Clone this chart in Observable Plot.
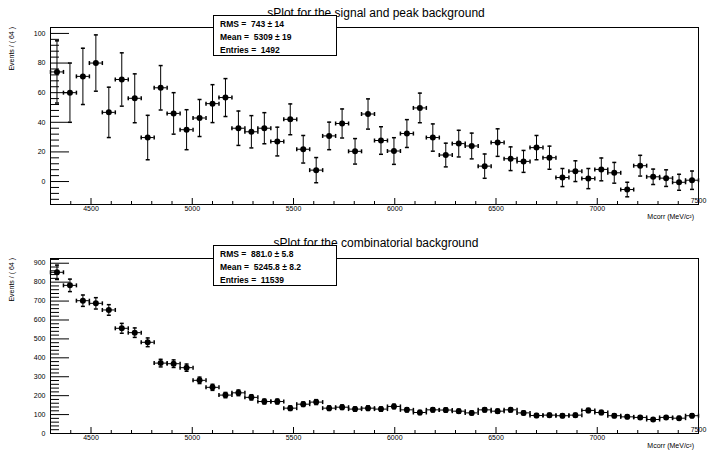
<!DOCTYPE html>
<html><head><meta charset="utf-8">
<script src="https://cdn.jsdelivr.net/npm/d3@7"></script>
<script src="https://cdn.jsdelivr.net/npm/@observablehq/plot@0.6"></script>
<style>
body{margin:0;background:#fff;font-family:"Liberation Sans",Arial,Helvetica,sans-serif;}
#wrap{position:relative;width:710px;height:450px;overflow:hidden;background:#fff;}
#wrap > svg{position:absolute;left:0;}
.title{position:absolute;font-size:12px;line-height:12px;white-space:nowrap;transform:translateX(-50%);color:#000;}
.stats{position:absolute;background:#fff;border:1px solid #000;box-sizing:border-box;font-weight:bold;font-size:8.5px;color:#000;}
.stats div{position:absolute;left:6px;white-space:pre;line-height:10px;}
</style>
</head><body>
<div id="wrap"></div>
<script>
// ---- data ----
const binCenters = [4332,4396,4460,4524,4588,4652,4716,4780,4844,4908,4972,5036,5100,5164,5228,5292,5356,5420,5484,5548,
  5612,5676,5740,5804,5868,5932,5996,6060,6124,6188,6252,6316,6380,6444,6508,6572,6636,6700,6764,6828,
  6892,6956,7020,7084,7148,7212,7276,7340,7404,7468];
const binHalfWidth = 32;
const signalValues = [74,60,71,80,46.7,68.9,56.2,29.7,63.3,46,35,42.9,52.6,56.7,36,33.6,36,27,42,21.8,
  7.7,30.8,39.2,20.4,45.6,27.7,20.6,32.4,49.7,29.7,17.9,25.6,24,10.4,26.3,15.4,13.6,22.9,16.1,2.7,
  7,2,8.2,5.9,-5.4,10.7,3.2,2.3,-0.5,0.9];
const signalErrors = [21,20,19,19,17,18,16.5,15,15,14,13.5,12.5,12.8,12.8,11.6,10.9,10.5,9.7,10.4,9.3,
  8.5,9.3,9.8,8.6,10.2,9.3,9,9.4,10,9.2,8,9,8.7,8.2,9.3,8,7.4,8.2,7.8,6.1,
  7,6.8,7.7,7,4.9,7,5.2,5.6,5.4,6.2];
const combValues = [852,783,702,688,653,556,533,482,372,369,348,281,244,203,215,191,169,169,134,155,
  166,134,139,129,134,129,143,125,111,125,124,118,109,125,118,125,109,95,97,94,
  97,122,111,94,88,85,74,85,81,94];
const combErrors = [38,33,30,30,28,26,25,23,20,20,19,17,16,14,15,14,13,13,12,12,
  13,12,12,11,12,11,12,11,11,11,11,11,10,11,11,11,10,10,10,10,
  10,11,11,10,9,9,9,9,9,10];
const xMajorTicks = [4500,5000,5500,6000,6500,7000,7500];
const xMinorTicks = [4400,4600,4700,4800,4900,5100,5200,5300,5400,5600,5700,5800,5900,6100,6200,6300,6400,
  6600,6700,6800,6900,7100,7200,7300,7400];
const sigYMajor = [0,20,40,60,80,100];
const sigYMinor = [-12,-8,-4,4,8,12,16,24,28,32,36,44,48,52,56,64,68,72,76,84,88,92,96];
const combYMajor = [0,100,200,300,400,500,600,700,800,900];
const combYMinor = [20,40,60,80,120,140,160,180,220,240,260,280,320,340,360,380,420,440,460,480,
  520,540,560,580,620,640,660,680,720,740,760,780,820,840,860,880,920];
const titles = ["sPlot for the signal and peak background", "sPlot for the combinatorial background"];
const stats = [
  ["RMS =  743 \u00b1 14", "Mean =  5309 \u00b1 19", "Entries =  1492"],
  ["RMS =  881.0 \u00b1 5.8", "Mean =  5245.8 \u00b1 8.2", "Entries =  11539"]
];
const yLabel = "Events / ( 64 )";
const xLabel = "Mcorr (MeV/c\u00b2)";

// ---- drawing ----
const W = 710, H = 225, ML = 50, MR = 12;
const innerW = W - ML - MR;
const hcap = {draw(ctx){ ctx.moveTo(-2,0); ctx.lineTo(2,0); }};
const vcap = {draw(ctx){ ctx.moveTo(0,-2); ctx.lineTo(0,2); }};
const fmt = d => String(d);

function panel(values, errors, yDomain, yMajor, yMinor, mt, mb) {
  const data = binCenters.map((x, i) => ({x, v: values[i], e: errors[i]}));
  const innerH = H - mt - mb;
  return Plot.plot({
    width: W, height: H, marginLeft: ML, marginRight: MR, marginTop: mt, marginBottom: mb,
    x: {domain: [4300, 7500]},
    y: {domain: yDomain},
    style: {fontFamily: '"Liberation Sans",Arial,Helvetica,sans-serif', color: "#000", background: "#fff"},
    marks: [
      Plot.tickY(yMajor, {y: d => d, insetRight: innerW - 19, stroke: "#000", strokeWidth: 1}),
      Plot.tickY(yMinor, {y: d => d, insetRight: innerW - 9, stroke: "#000", strokeWidth: 1}),
      Plot.tickX(xMajorTicks, {x: d => d, insetTop: innerH - 6, stroke: "#000"}),
      Plot.tickX(xMinorTicks, {x: d => d, insetTop: innerH - 3, stroke: "#000"}),
      Plot.axisX({ticks: xMajorTicks.slice(0, -1), tickSize: 0, tickPadding: 2, fontSize: 7, label: null, tickFormat: fmt}),
      Plot.axisX({ticks: [7500], tickSize: 0, tickPadding: 2, fontSize: 7, label: null, tickFormat: fmt, dy: -8}),
      Plot.axisY({ticks: yMajor, tickSize: 0, tickPadding: 5, fontSize: 7, label: null, tickFormat: fmt}),
      Plot.ruleX(data, {x: "x", y1: d => d.v - d.e, y2: d => d.v + d.e, stroke: "#000", strokeWidth: 1}),
      Plot.ruleY(data, {y: "v", x1: d => d.x - binHalfWidth, x2: d => d.x + binHalfWidth, stroke: "#000", strokeWidth: 1}),
      Plot.dot(data, {x: "x", y: d => d.v + d.e, symbol: hcap, stroke: "#000", fill: "none", r: 2}),
      Plot.dot(data, {x: "x", y: d => d.v - d.e, symbol: hcap, stroke: "#000", fill: "none", r: 2}),
      Plot.dot(data, {x: d => d.x - binHalfWidth, y: "v", symbol: vcap, stroke: "#000", fill: "none", r: 2}),
      Plot.dot(data, {x: d => d.x + binHalfWidth, y: "v", symbol: vcap, stroke: "#000", fill: "none", r: 2}),
      Plot.dot(data, {x: "x", y: "v", r: 3, fill: "#000", stroke: null}),
      Plot.frame({stroke: "#000"})
    ]
  });
}

const wrap = document.getElementById("wrap");
const p1 = panel(signalValues, signalErrors, [-15.5, 104], sigYMajor, sigYMinor, 27, 21);
p1.style.top = "0px";
const p2 = panel(combValues, combErrors, [0, 925], combYMajor, combYMinor, 33, 17);
p2.style.top = "225px";
wrap.appendChild(p1);
wrap.appendChild(p2);

const panelInfo = [
  {titleY: 7, statsY: 15, frameTop: 27, frameBottom: 204},
  {titleY: 237, statsY: 245, frameTop: 258, frameBottom: 433}
];
panelInfo.forEach((p, i) => {
  const t = document.createElement("div");
  t.className = "title"; t.textContent = titles[i];
  t.style.left = "376px"; t.style.top = p.titleY + "px";
  wrap.appendChild(t);
  const s = document.createElement("div");
  s.className = "stats";
  s.style.left = "213px"; s.style.top = p.statsY + "px";
  s.style.width = "124px"; s.style.height = "41px";
  stats[i].forEach((line, j) => {
    const l = document.createElement("div");
    l.textContent = line; l.style.top = (3 + 13 * j) + "px";
    s.appendChild(l);
  });
  wrap.appendChild(s);
});

// axis titles overlay
const ns = "http://www.w3.org/2000/svg";
const ov = document.createElementNS(ns, "svg");
ov.setAttribute("width", W); ov.setAttribute("height", 450);
ov.style.top = "0px"; ov.style.pointerEvents = "none";
ov.setAttribute("font-family", '"Liberation Sans",Arial,Helvetica,sans-serif');
panelInfo.forEach(p => {
  const yl = document.createElementNS(ns, "text");
  yl.setAttribute("transform", `translate(14,${p.frameTop}) rotate(-90)`);
  yl.setAttribute("text-anchor", "end");
  yl.setAttribute("font-size", "7");
  yl.textContent = yLabel;
  ov.appendChild(yl);
  const xl = document.createElementNS(ns, "text");
  xl.setAttribute("x", 694); xl.setAttribute("y", p.frameBottom + 15);
  xl.setAttribute("text-anchor", "end");
  xl.setAttribute("font-size", "7");
  xl.textContent = xLabel;
  ov.appendChild(xl);
});
wrap.appendChild(ov);
</script>
</body></html>
